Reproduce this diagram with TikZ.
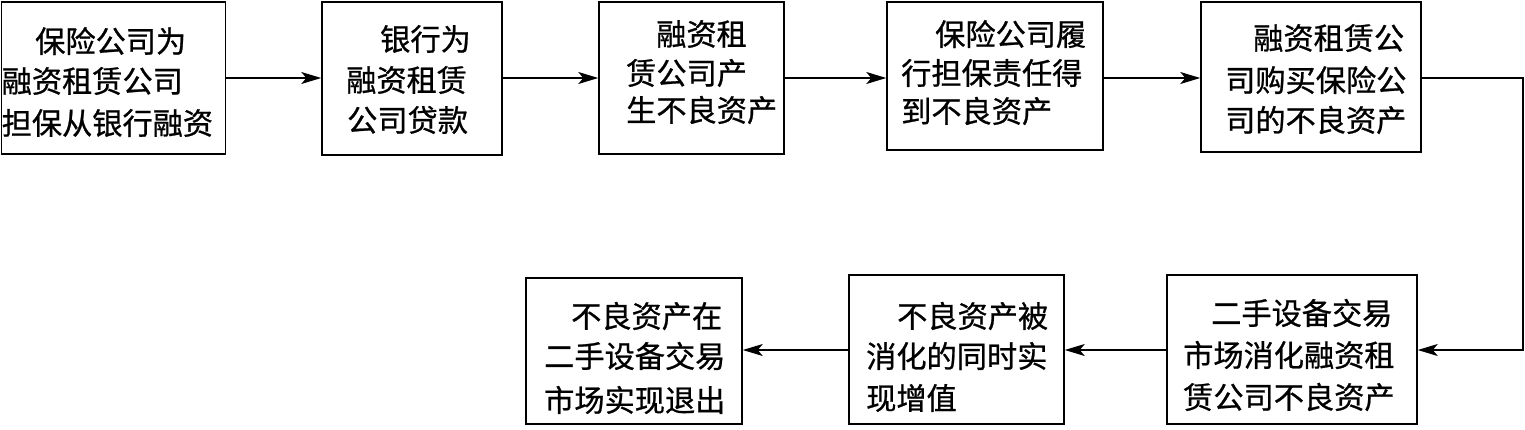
\documentclass[tikz,border=0pt]{standalone}
\usepackage{fontspec}
\newfontfamily\cjk[FakeBold=0.8]{Noto Sans CJK SC}
\usetikzlibrary{arrows.meta}
\tikzset{
  box/.style={draw, line width=1.5pt, rectangle, inner sep=0pt},
  txt/.style={anchor=west, inner sep=0pt, font=\cjk\fontsize{30.2}{35}\selectfont},
  arr/.style={line width=1.4pt, -{Stealth[length=20pt,width=12pt,inset=5pt]}},
  link/.style={line width=1.4pt}
}
\begin{document}
\begin{tikzpicture}[x=1pt,y=-1pt]
\useasboundingbox (0,0) rectangle (1525,429);
% boxes
\node[box, minimum width=224pt, minimum height=152pt] (b1) at (113.5,78) {};
\node[box, minimum width=180pt, minimum height=153pt] (b2) at (412,78.5) {};
\node[box, minimum width=185pt, minimum height=152pt] (b3) at (691.5,78) {};
\node[box, minimum width=216pt, minimum height=148pt] (b4) at (995,76) {};
\node[box, minimum width=220pt, minimum height=150pt] (b5) at (1311,77) {};
\node[box, minimum width=250pt, minimum height=149pt] (b6) at (1292,349.5) {};
\node[box, minimum width=215pt, minimum height=149pt] (b7) at (956.5,349.5) {};
\node[box, minimum width=216pt, minimum height=146pt] (b8) at (634,351) {};
% texts
\node[txt] (t1a) at (35,41) {保险公司为};
\node[txt] (t1b) at (1.5,81) {融资租赁公司};
\node[txt] (t1c) at (1.5,123) {担保从银行融资};
\node[txt] (t2a) at (380,39) {银行为};
\node[txt] (t2b) at (346,80) {融资租赁};
\node[txt] (t2c) at (347,120) {公司贷款};
\node[txt] (t3a) at (656,34) {融资租};
\node[txt] (t3b) at (626,73) {赁公司产};
\node[txt] (t3c) at (626,110) {生不良资产};
\node[txt] (t4a) at (935,34) {保险公司履};
\node[txt] (t4b) at (901,73) {行担保责任得};
\node[txt] (t4c) at (901,111) {到不良资产};
\node[txt] (t5a) at (1253,38) {融资租赁公};
\node[txt] (t5b) at (1225,80) {司购买保险公};
\node[txt] (t5c) at (1225,120) {司的不良资产};
\node[txt] (t6a) at (1211,313) {二手设备交易};
\node[txt] (t6b) at (1183,355) {市场消化融资租};
\node[txt] (t6c) at (1183,397) {赁公司不良资产};
\node[txt] (t7a) at (897,316) {不良资产被};
\node[txt] (t7b) at (866,356) {消化的同时实};
\node[txt] (t7c) at (866,398) {现增值};
\node[txt] (t8a) at (571,316) {不良资产在};
\node[txt] (t8b) at (544,356) {二手设备交易};
\node[txt] (t8c) at (544,400) {市场实现退出};
% connectors
\coordinate (r) at (1523,0);
\draw[arr] (b1.east |- 0,78) -- (b2.west |- 0,78);
\draw[arr] (b2.east |- 0,78) -- (b3.west |- 0,78);
\draw[arr] (b3.east |- 0,78) -- (b4.west |- 0,78);
\draw[arr] (b4.east |- 0,78) -- (b5.west |- 0,78);
\draw[arr] (b5.east |- 0,78) -- (r |- 0,78) -- (r |- 0,350) -- (b6.east |- 0,350);
\draw[arr] (b6.west |- 0,350) -- (b7.east |- 0,350);
\draw[arr] (b7.west |- 0,350) -- (b8.east |- 0,350);
\end{tikzpicture}
\end{document}
